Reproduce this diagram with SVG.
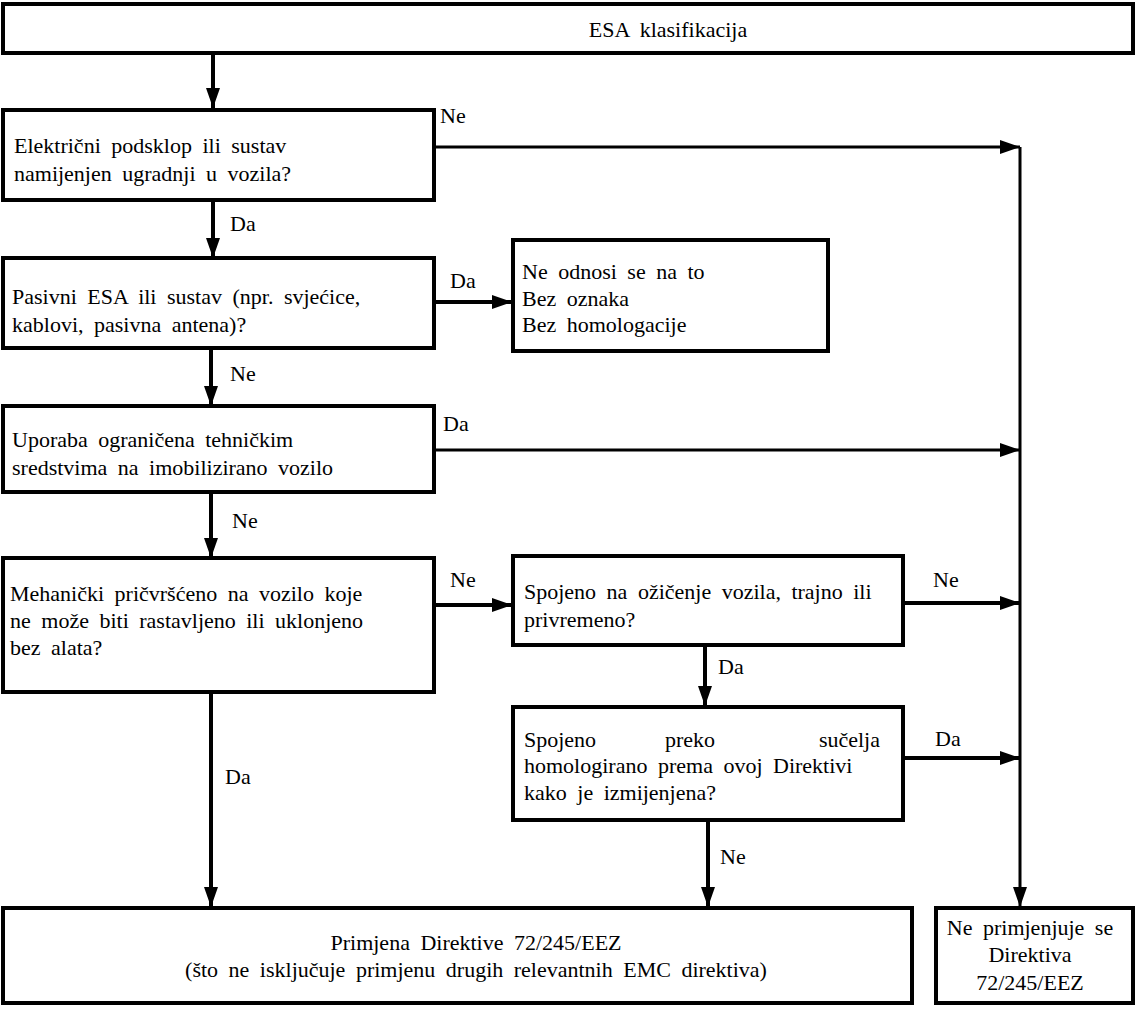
<svg xmlns="http://www.w3.org/2000/svg" width="1138" height="1024" viewBox="0 0 1138 1024">
<defs>
<marker id="ah" markerUnits="userSpaceOnUse" markerWidth="20" markerHeight="14" refX="20" refY="7" orient="auto">
<path d="M0,0 L20,7 L0,14 z" fill="#000"/>
</marker>
<style>
.box{fill:#fff;stroke:#000;stroke-width:4}
.t{font-size:22px;fill:#000;word-spacing:5px}
.c{text-anchor:middle}
.e{text-anchor:end}
.v{fill:none;stroke:#000;stroke-width:4}
.h{fill:none;stroke:#000;stroke-width:3}
</style>
</defs>
<rect width="1138" height="1024" fill="#fff"/>
<g font-family="Liberation Serif, Times New Roman, DejaVu Serif, serif">
<g id="connectors">
<path class="v" d="M213,53 V108" marker-end="url(#ah)"/>
<path class="v" d="M213,200 V258" marker-end="url(#ah)"/>
<path class="v" d="M211,348 V406" marker-end="url(#ah)"/>
<path class="v" d="M211,492 V558" marker-end="url(#ah)"/>
<path class="v" d="M211,692 V907" marker-end="url(#ah)"/>
<path class="v" d="M705,645 V706" marker-end="url(#ah)"/>
<path class="v" d="M708,820 V907" marker-end="url(#ah)"/>
<path class="h" d="M434,147 H1020" marker-end="url(#ah)"/>
<path class="h" d="M1020,147 V907" marker-end="url(#ah)"/>
<path class="v" d="M434,302 H512" marker-end="url(#ah)"/>
<path class="h" d="M434,450 H1020" marker-end="url(#ah)"/>
<path class="v" d="M434,605 H512" marker-end="url(#ah)"/>
<path class="v" d="M903,603 H1020" marker-end="url(#ah)"/>
<path class="v" d="M903,758 H1020" marker-end="url(#ah)"/>
<text class="t" x="440" y="123">Ne</text>
<text class="t" x="230" y="231">Da</text>
<text class="t" x="450" y="288">Da</text>
<text class="t" x="230" y="381">Ne</text>
<text class="t" x="443" y="431">Da</text>
<text class="t" x="232" y="528">Ne</text>
<text class="t" x="450" y="587">Ne</text>
<text class="t" x="933" y="587">Ne</text>
<text class="t" x="718" y="674">Da</text>
<text class="t" x="935" y="746">Da</text>
<text class="t" x="720" y="864">Ne</text>
<text class="t" x="225" y="784">Da</text>
</g>
<g id="n0">
<rect class="box" x="3" y="4" width="1130" height="49"/>
<text class="t c" x="668" y="37">ESA klasifikacija</text>
</g>
<g id="n1">
<rect class="box" x="3" y="110" width="431" height="90"/>
<text class="t" x="14" y="153">Električni podsklop ili sustav</text>
<text class="t" x="14" y="181">namijenjen ugradnji u vozila?</text>
</g>
<g id="n2">
<rect class="box" x="3" y="258" width="431" height="90"/>
<text class="t" x="12" y="304">Pasivni ESA ili sustav (npr. svjećice,</text>
<text class="t" x="12" y="332">kablovi, pasivna antena)?</text>
</g>
<g id="n3">
<rect class="box" x="513" y="240" width="315" height="111"/>
<text class="t" x="522" y="279">Ne odnosi se na to</text>
<text class="t" x="522" y="306">Bez oznaka</text>
<text class="t" x="522" y="332">Bez homologacije</text>
</g>
<g id="n4">
<rect class="box" x="3" y="406" width="431" height="86"/>
<text class="t" x="12" y="447">Uporaba ograničena tehničkim</text>
<text class="t" x="12" y="475">sredstvima na imobilizirano vozilo</text>
</g>
<g id="n5">
<rect class="box" x="3" y="558" width="431" height="134"/>
<text class="t" x="10" y="601">Mehanički pričvršćeno na vozilo koje</text>
<text class="t" x="10" y="628">ne može biti rastavljeno ili uklonjeno</text>
<text class="t" x="10" y="655">bez alata?</text>
</g>
<g id="n6">
<rect class="box" x="513" y="556" width="390" height="89"/>
<text class="t" x="524" y="599">Spojeno na ožičenje vozila, trajno ili</text>
<text class="t" x="524" y="627">privremeno?</text>
</g>
<g id="n7">
<rect class="box" x="513" y="707" width="390" height="113"/>
<text class="t" x="524" y="747">Spojeno</text>
<text class="t c" x="690" y="747">preko</text>
<text class="t e" x="880" y="747">sučelja</text>
<text class="t" x="524" y="773">homologirano prema ovoj Direktivi</text>
<text class="t" x="524" y="800">kako je izmijenjena?</text>
</g>
<g id="n8">
<rect class="box" x="3" y="908" width="909" height="95"/>
<text class="t c" x="476" y="950">Primjena Direktive 72/245/EEZ</text>
<text class="t c" x="476" y="977">(što ne isključuje primjenu drugih relevantnih EMC direktiva)</text>
</g>
<g id="n9">
<rect class="box" x="936" y="908" width="197" height="95"/>
<text class="t c" x="1030" y="935">Ne primjenjuje se</text>
<text class="t c" x="1030" y="962">Direktiva</text>
<text class="t c" x="1030" y="990">72/245/EEZ</text>
</g>
</g>
</svg>
